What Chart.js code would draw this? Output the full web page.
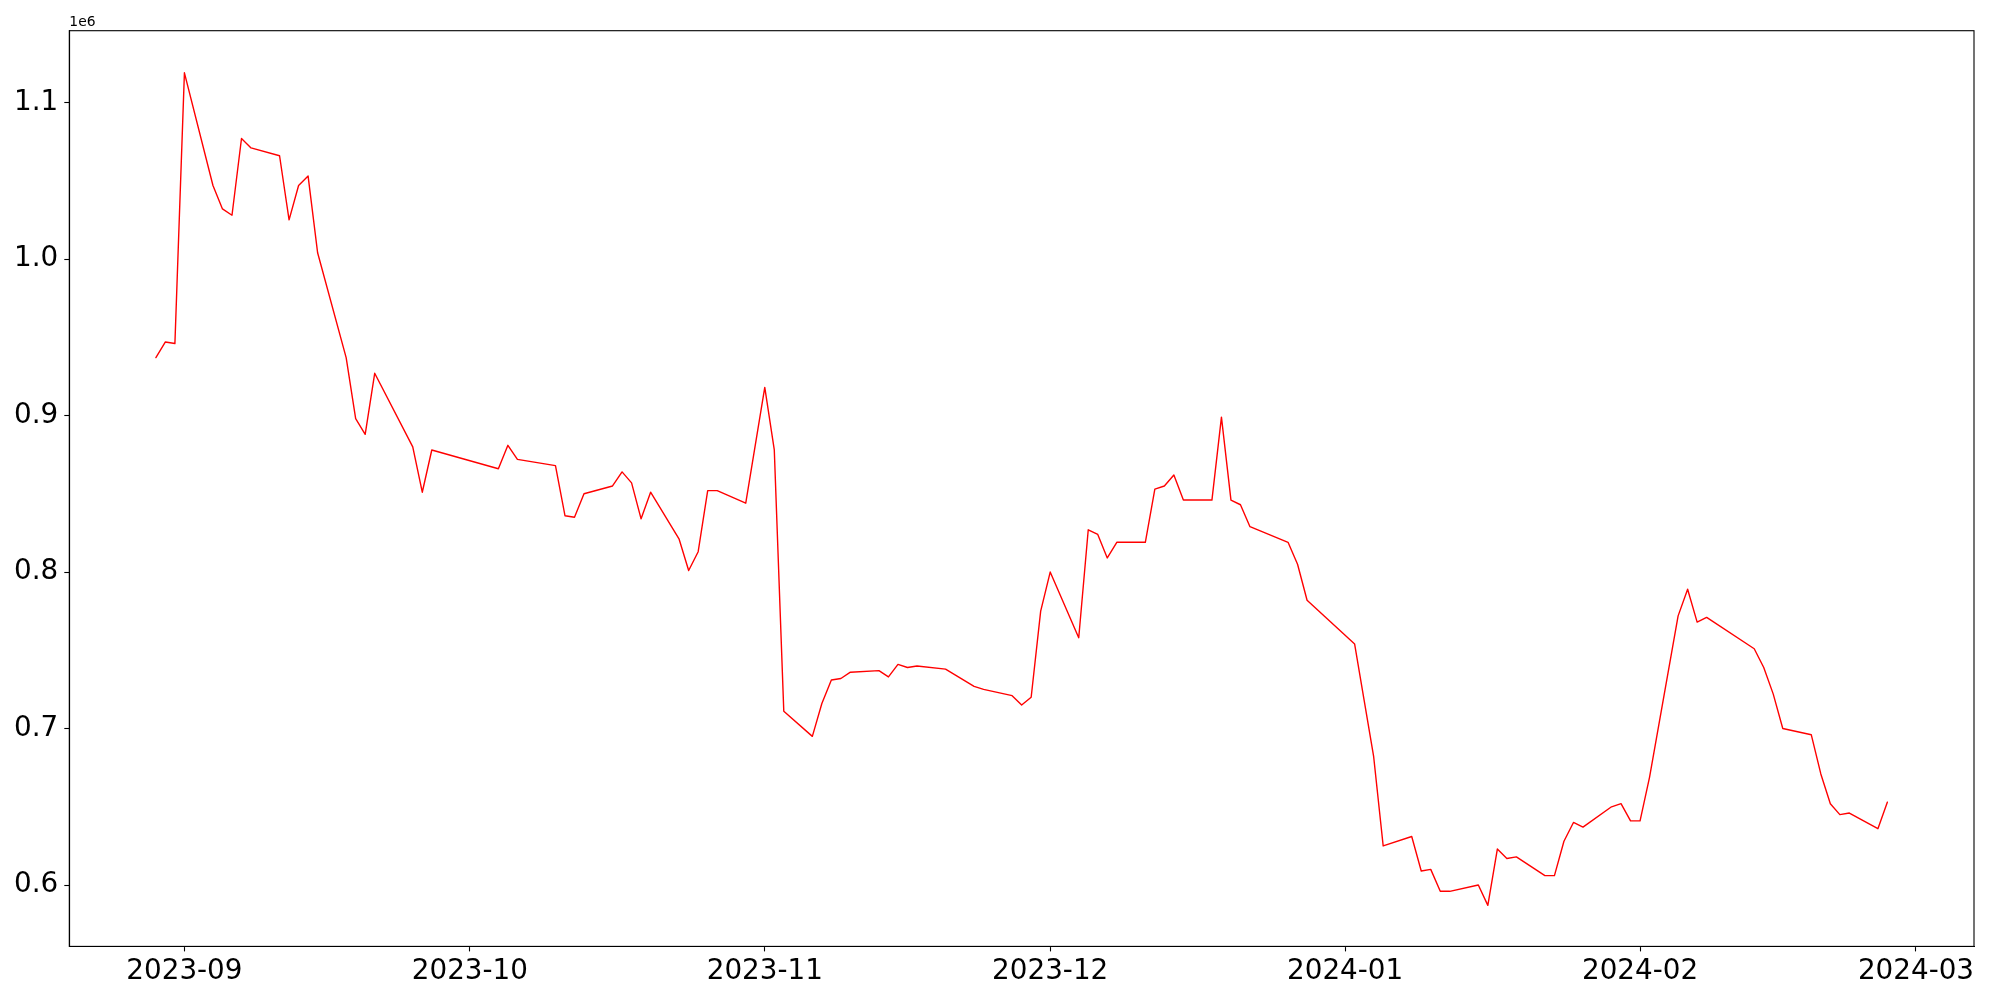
<!DOCTYPE html>
<html>
<head>
<meta charset="utf-8">
<script src="https://cdn.jsdelivr.net/npm/chart.js@4.4.1/dist/chart.umd.min.js"></script>
<style>
  html, body { margin: 0; padding: 0; background: #fff; }
  canvas { display: block; }
</style>
</head>
<body>
<canvas id="chart" width="2000" height="1000" style="width:2000px;height:1000px"></canvas>
<script>
// trading days and values
const dates = [
  "2023-08-29", "2023-08-30", "2023-08-31", "2023-09-01", "2023-09-04", "2023-09-05",
  "2023-09-06", "2023-09-07", "2023-09-08", "2023-09-11", "2023-09-12", "2023-09-13",
  "2023-09-14", "2023-09-15", "2023-09-18", "2023-09-19", "2023-09-20", "2023-09-21",
  "2023-09-25", "2023-09-26", "2023-09-27", "2023-10-04", "2023-10-05", "2023-10-06",
  "2023-10-10", "2023-10-11", "2023-10-12", "2023-10-13", "2023-10-16", "2023-10-17",
  "2023-10-18", "2023-10-19", "2023-10-20", "2023-10-23", "2023-10-24", "2023-10-25",
  "2023-10-26", "2023-10-27", "2023-10-30", "2023-11-01", "2023-11-02", "2023-11-03",
  "2023-11-06", "2023-11-07", "2023-11-08", "2023-11-09", "2023-11-10", "2023-11-13",
  "2023-11-14", "2023-11-15", "2023-11-16", "2023-11-17", "2023-11-20", "2023-11-23",
  "2023-11-24", "2023-11-27", "2023-11-28", "2023-11-29", "2023-11-30", "2023-12-01",
  "2023-12-04", "2023-12-05", "2023-12-06", "2023-12-07", "2023-12-08", "2023-12-11",
  "2023-12-12", "2023-12-13", "2023-12-14", "2023-12-15", "2023-12-18", "2023-12-19",
  "2023-12-20", "2023-12-21", "2023-12-22", "2023-12-26", "2023-12-27", "2023-12-28",
  "2024-01-02", "2024-01-03", "2024-01-04", "2024-01-05", "2024-01-08", "2024-01-09",
  "2024-01-10", "2024-01-11", "2024-01-12", "2024-01-15", "2024-01-16", "2024-01-17",
  "2024-01-18", "2024-01-19", "2024-01-22", "2024-01-23", "2024-01-24", "2024-01-25",
  "2024-01-26", "2024-01-29", "2024-01-30", "2024-01-31", "2024-02-01", "2024-02-02",
  "2024-02-05", "2024-02-06", "2024-02-07", "2024-02-08", "2024-02-13", "2024-02-14",
  "2024-02-15", "2024-02-16", "2024-02-19", "2024-02-20", "2024-02-21", "2024-02-22",
  "2024-02-23", "2024-02-26", "2024-02-27"
];

const values = [
  937000, 947000, 946000, 1119000, 1047000, 1032000,
  1028000, 1077000, 1071000, 1066000, 1025000, 1047000,
  1053000, 1004000, 937000, 898000, 888000, 927000,
  880000, 851000, 878000, 866000, 881000, 872000,
  868000, 836000, 835000, 850000, 855000, 864000,
  857000, 834000, 851000, 821000, 801000, 813000,
  852000, 852000, 844000, 918000, 878000, 711000,
  695000, 716000, 731000, 732000, 736000, 737000,
  733000, 741000, 739000, 740000, 738000, 727000,
  725000, 721000, 715000, 720000, 775000, 800000,
  758000, 827000, 824000, 809000, 819000, 819000,
  853000, 855000, 862000, 846000, 846000, 899000,
  846000, 843000, 829000, 819000, 805000, 782000,
  754000, 718000, 682000, 625000, 631000, 609000,
  610000, 596000, 596000, 600000, 587000, 623000,
  617000, 618000, 606000, 606000, 628000, 640000,
  637000, 650000, 652000, 641000, 641000, 669000,
  772000, 789000, 768000, 771000, 751000, 739000,
  722000, 700000, 696000, 671000, 652000, 645000,
  646000, 636000, 653000
];

const xTickLabels = ["2023-09", "2023-10", "2023-11", "2023-12", "2024-01", "2024-02", "2024-03"];
const yTickValues = [600000, 700000, 800000, 900000, 1000000, 1100000];
const yTickLabels = ["0.6", "0.7", "0.8", "0.9", "1.0", "1.1"];

const xTickValues = xTickLabels.map((m) => Date.parse(m + "-01"));
const points = dates.map((d, i) => ({ x: Date.parse(d), y: values[i] }));

// matplotlib-like 5% margins
const xFirst = points[0].x;
const xLast = points[points.length - 1].x;
const xPad = (xLast - xFirst) * 0.05;

const tickFont = { family: "'DejaVu Sans', sans-serif", size: 27.8 };

// top/right spines and the offset text
const framePlugin = {
  id: "frame",
  afterDraw(chart) {
    const { ctx, chartArea } = chart;
    ctx.save();
    ctx.strokeStyle = "#000";
    ctx.lineWidth = 1.1;
    ctx.strokeRect(chartArea.left, chartArea.top, chartArea.right - chartArea.left, chartArea.bottom - chartArea.top);
    ctx.fillStyle = "#000";
    ctx.font = "13.9px 'DejaVu Sans', sans-serif";
    ctx.textAlign = "left";
    ctx.textBaseline = "alphabetic";
    ctx.fillText("1e6", chartArea.left, chartArea.top - 5);
    ctx.restore();
  },
};

new Chart(document.getElementById("chart").getContext("2d"), {
  type: "line",
  data: {
    datasets: [
      {
        data: points,
        borderColor: "#ff0000",
        borderWidth: 1.4,
        borderJoinStyle: "round",
        borderCapStyle: "round",
        pointRadius: 0,
        tension: 0,
        fill: false,
      },
    ],
  },
  options: {
    responsive: false,
    devicePixelRatio: 1,
    animation: false,
    layout: { padding: { top: 30.7, right: 26, left: 0, bottom: 0 } },
    plugins: {
      legend: { display: false },
      tooltip: { enabled: false },
    },
    scales: {
      x: {
        type: "linear",
        min: xFirst - xPad,
        max: xLast + xPad,
        afterBuildTicks: (scale) => {
          scale.ticks = xTickValues.map((v) => ({ value: v }));
        },
        afterFit: (scale) => {
          scale.height = 53.6;
        },
        ticks: {
          autoSkip: false,
          maxRotation: 0,
          padding: 4,
          color: "#000",
          font: tickFont,
          callback: (value, index) => xTickLabels[index],
        },
        grid: {
          drawOnChartArea: false,
          tickLength: 5,
          tickColor: "#000",
          tickWidth: 1.1,
        },
        border: { color: "#000", width: 1.1 },
      },
      y: {
        min: 560800,
        max: 1145900,
        afterBuildTicks: (scale) => {
          scale.ticks = yTickValues.map((v) => ({ value: v }));
        },
        afterFit: (scale) => {
          scale.width = 69.3;
        },
        ticks: {
          padding: 6,
          color: "#000",
          font: tickFont,
          callback: (value, index) => yTickLabels[index],
        },
        grid: {
          drawOnChartArea: false,
          tickLength: 5,
          tickColor: "#000",
          tickWidth: 1.1,
        },
        border: { color: "#000", width: 1.1 },
      },
    },
  },
  plugins: [framePlugin],
});
</script>
</body>
</html>
